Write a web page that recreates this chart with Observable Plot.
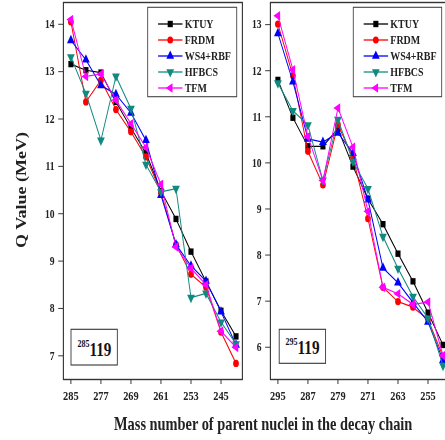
<!DOCTYPE html>
<html>
<head>
<meta charset="utf-8">
<script src="https://cdn.jsdelivr.net/npm/d3@7"></script>
<script src="https://cdn.jsdelivr.net/npm/@observablehq/plot@0.6"></script>
<style>
  html, body { margin: 0; padding: 0; background: #fff; }
  #wrap { position: relative; width: 445px; height: 440px; overflow: hidden; background: #fff; }
  #inner { position: absolute; left: 0; top: 0; width: 570px; height: 440px; transform: scaleX(0.8); transform-origin: 0 0; }
  #p1, #p2, #overlay { position: absolute; top: 0; }
  #p1 { left: 0; }
  #p2 { left: 310px; }
  #overlay { left: 0; pointer-events: none; }
  #p1 svg g[aria-label^="x-axis"] text, #p2 svg g[aria-label^="x-axis"] text { font-size: 13px !important; }
  #p1 svg g[aria-label^="y-axis"] text, #p2 svg g[aria-label^="y-axis"] text { font-size: 12px !important; }
  text { font-family: "Liberation Serif", "Times New Roman", serif; font-weight: bold; }
</style>
</head>
<body>
<div id="wrap"><div id="inner"><div id="p1"></div><div id="p2"></div><svg id="overlay" width="570" height="440"></svg></div></div>
<script>
// ---------- data ----------
const series = ["KTUY", "FRDM", "WS4+RBF", "HFBCS", "TFM"];
const colors = ["#000000", "#ff0000", "#0000ff", "#108a80", "#ff00ff"];

// chain of 285-119
const massA = [285, 281, 277, 273, 269, 265, 261, 257, 253, 249, 245, 241];
const ktuyA  = [13.16, 13.03, 12.98, 12.36, 11.81, 11.28, 10.48, 9.89, 9.20, 8.57, 7.95, 7.41];
const frdmA  = [14.05, 12.36, 12.82, 12.20, 11.73, 11.20, 10.45, 9.35, 8.72, 8.45, 7.50, 6.84];
const ws4A   = [13.66, 13.25, 12.71, 12.52, 12.13, 11.55, 10.39, 9.35, 8.90, 8.58, 7.93, 7.23];
const hfbcsA = [13.31, 12.54, 11.55, 12.90, 12.22, 11.04, 10.46, 10.53, 8.23, 8.32, 7.71, 7.25];
const tfmA   = [14.10, 12.90, 12.95, 12.40, 11.90, 11.40, 10.62, 9.30, 8.85, 8.50, 7.52, 7.18];
const xTicksA = [285, 277, 269, 261, 253, 245];
const yTicksA = [7, 8, 9, 10, 11, 12, 13, 14];
const labelA = ["285", "119"];

// chain of 295-119
const massB = [295, 291, 287, 283, 279, 275, 271, 267, 263, 259, 255, 251];
const ktuyB  = [11.80, 10.98, 10.36, 10.36, 10.74, 9.92, 9.22, 8.67, 8.03, 7.43, 6.75, 6.05];
const frdmB  = [13.01, 11.89, 10.25, 9.52, 10.83, 10.12, 8.79, 7.30, 6.99, 6.87, 6.60, 5.80];
const ws4B   = [12.81, 11.76, 10.52, 10.45, 10.65, 10.21, 9.20, 7.72, 7.40, 6.97, 6.55, 5.72];
const hfbcsB = [11.73, 11.13, 10.82, 9.62, 10.94, 10.03, 9.44, 8.40, 7.71, 7.10, 6.63, 5.60];
const tfmB   = [13.19, 12.02, 10.57, 9.62, 11.19, 10.34, 8.95, 7.30, 7.16, 6.93, 6.98, 5.82];
const xTicksB = [295, 287, 279, 271, 263, 255];
const yTicksB = [6, 7, 8, 9, 10, 11, 12, 13];
const labelB = ["295", "119"];

const yTitle = "Q Value (MeV)";
const xTitle = "Mass number of parent nuclei in the decay chain";

// ---------- symbols ----------
const sqrt3 = Math.sqrt(3);
const triDown = { draw(ctx, size) { const y = -Math.sqrt(size / (sqrt3 * 3)); ctx.moveTo(0, -y * 2); ctx.lineTo(-sqrt3 * y, y); ctx.lineTo(sqrt3 * y, y); ctx.closePath(); } };
const triLeft = { draw(ctx, size) { const y = -Math.sqrt(size / (sqrt3 * 3)); ctx.moveTo(y * 2, 0); ctx.lineTo(-y, sqrt3 * y); ctx.lineTo(-y, -sqrt3 * y); ctx.closePath(); } };
const symbols = [d3.symbolSquare, d3.symbolCircle, d3.symbolTriangle, triDown, triLeft];
const R = 3.6;

function panel(mass, vals, xDomain, yDomain, xTicks, yTicks, width, ml, mr) {
  const marks = [Plot.frame({ stroke: "#333", strokeWidth: 1.4 })];
  series.forEach((s, i) => {
    const d = mass.map((m, j) => ({ series: s, mass: m, q: vals[i][j] }));
    marks.push(Plot.line(d, { x: "mass", y: "q", stroke: colors[i], strokeWidth: 1.2 }));
    marks.push(Plot.dot(d, { x: "mass", y: "q", symbol: symbols[i], fill: colors[i], r: R }));
  });
  return Plot.plot({
    width, height: 440,
    marginLeft: ml, marginRight: mr, marginTop: 2, marginBottom: 61,
    x: { domain: xDomain, ticks: xTicks, tickSize: 5, tickPadding: 6, tickFormat: d => String(d), label: null },
    y: { domain: yDomain, ticks: yTicks, tickSize: 6, tickPadding: 5, label: null },
    style: { fontFamily: "'Liberation Serif', 'Times New Roman', serif", fontWeight: "bold", fontSize: "12px", color: "#222", background: "transparent", overflow: "visible" },
    marks
  });
}

document.getElementById("p1").appendChild(
  panel(massA, [ktuyA, frdmA, ws4A, hfbcsA, tfmA], [287, 239.3], [6.5, 14.46], xTicksA, yTicksA, 310, 78.75, 7.5));
document.getElementById("p2").appendChild(
  panel(massB, [ktuyB, frdmB, ws4B, hfbcsB, tfmB], [297, 248.5], [5.3, 13.48], xTicksB, yTicksB, 260, 27.5, 5));

// ---------- overlay: titles, legends, labels ----------
const ov = d3.select("#overlay");
ov.append("text").attr("transform", "translate(26,190) rotate(-90)")
  .attr("text-anchor", "middle").attr("dominant-baseline", "central")
  .attr("font-size", 18).attr("fill", "#222").text(yTitle);
ov.append("text").attr("x", 329).attr("y", 430).attr("text-anchor", "middle")
  .attr("font-size", 18).attr("fill", "#222").text(xTitle);

function legend(x0, y0, w, h) {
  const g = ov.append("g").attr("transform", `translate(${x0},${y0})`);
  g.append("rect").attr("width", w).attr("height", h).attr("fill", "#fff").attr("stroke", "#444").attr("stroke-width", 1.1);
  series.forEach((s, i) => {
    const y = 16.7 + 16 * i;
    g.append("line").attr("x1", 13).attr("x2", 43.5).attr("y1", y).attr("y2", y).attr("stroke", colors[i]).attr("stroke-width", 1.3);
    g.append("path").attr("transform", `translate(28.2,${y})`).attr("d", d3.symbol(symbols[i], Math.PI * R * R)()).attr("fill", colors[i]);
    g.append("text").attr("x", 46.3).attr("y", y).attr("dy", "0.35em").attr("font-size", 12.5).attr("fill", "#222").text(s);
  });
}
legend(184.6, 7.3, 111.3, 89.4);
legend(441.6, 7.3, 110.5, 89.4);

function chainLabel(x0, y0, w, h, lab) {
  const g = ov.append("g").attr("transform", `translate(${x0},${y0})`);
  g.append("rect").attr("width", w).attr("height", h).attr("fill", "#fff").attr("stroke", "#333").attr("stroke-width", 1.1);
  const t = g.append("text").attr("x", 8).attr("y", h - 9).attr("fill", "#111");
  t.append("tspan").attr("font-size", 10).attr("dy", "-9").text(lab[0]);
  t.append("tspan").attr("font-size", 19).attr("dy", "9").text(lab[1]);
}
chainLabel(88.75, 329.3, 57.9, 35.7, labelA);
chainLabel(349, 329.3, 58, 34, labelB);
</script>
</body>
</html>
